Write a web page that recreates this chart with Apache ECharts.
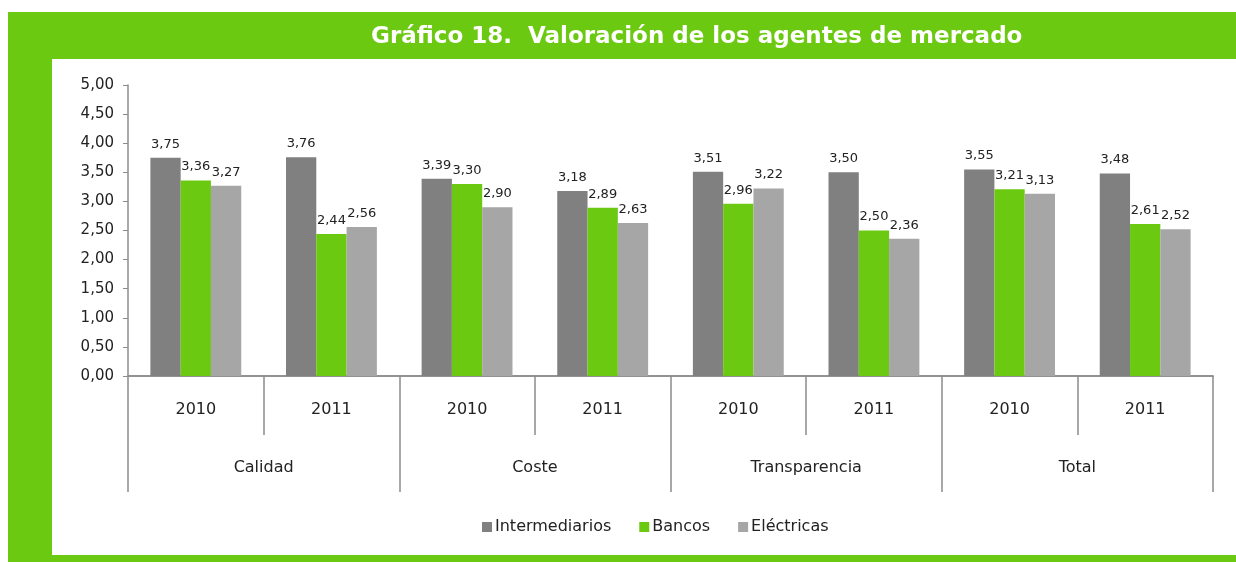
<!DOCTYPE html>
<html>
<head>
<meta charset="utf-8">
<style>
    body { margin: 0; background: #fff; }
    .frame {
        position: absolute; left: 8px; top: 12px; width: 1228px; height: 550px;
        background: #6cc911;
    }
    .inner {
        position: absolute; left: 52px; top: 59px; width: 1184px; height: 496px;
        background: #fff;
    }
    #chart { position: absolute; left: 0; top: 0; width: 1236px; height: 562px; }
</style>
</head>
<body>
<div class="frame"></div>
<div class="inner"></div>
<div id="chart"></div>
<script src="https://cdn.jsdelivr.net/npm/echarts@6/dist/echarts.min.js"></script>
<script>
    var years = ['2010', '2011', '2010', '2011', '2010', '2011', '2010', '2011'];
    var groups = ['Calidad', 'Coste', 'Transparencia', 'Total'];
    var intermediarios = [3.75, 3.76, 3.39, 3.18, 3.51, 3.50, 3.55, 3.48];
    var bancos = [3.36, 2.44, 3.30, 2.89, 2.96, 2.50, 3.21, 2.61];
    var electricas = [3.27, 2.56, 2.90, 2.63, 3.22, 2.36, 3.13, 2.52];

    var fontName = 'DejaVu Sans';
    var axisGrey = '#8c8c8c';

    function comma(v) {
        return v.toFixed(2).replace('.', ',');
    }

    function barSeries(name, data, color) {
        return {
            name: name,
            type: 'bar',
            data: data,
            barGap: '0%',
            barCategoryGap: '33%',
            itemStyle: { color: color },
            label: {
                show: true,
                position: 'top',
                distance: 7,
                color: '#222',
                fontSize: 13,
                fontFamily: fontName,
                formatter: function (p) { return comma(p.value); }
            }
        };
    }

    var myChart = echarts.init(document.getElementById('chart'));
    var option = {
        animation: false,
        title: {
            text: 'Gráfico 18.  Valoración de los agentes de mercado',
            left: 366,
            top: 21,
            textStyle: { color: '#fff', fontSize: 23, fontWeight: 'bold', fontFamily: fontName }
        },
        legend: {
            left: 477,
            top: 514,
            itemWidth: 10,
            itemHeight: 10,
            itemGap: 28,
            icon: 'rect',
            textStyle: { color: '#222', fontSize: 16, fontFamily: fontName, padding: [0, 0, 0, -2] },
            data: ['Intermediarios', 'Bancos', 'Eléctricas']
        },
        grid: { left: 128, right: 23, top: 85, bottom: 186, containLabel: false },
        xAxis: [
            {
                type: 'category',
                data: years,
                axisLine: { show: true, lineStyle: { color: axisGrey, width: 1.5 } },
                axisTick: { show: true, length: 59, lineStyle: { color: axisGrey, width: 1.5 } },
                axisLabel: { margin: 26, color: '#222', fontSize: 16, fontFamily: fontName }
            },
            {
                type: 'category',
                data: groups,
                position: 'bottom',
                axisLine: { show: true, lineStyle: { color: axisGrey, width: 1.5 } },
                axisTick: { show: true, length: 116, lineStyle: { color: axisGrey, width: 1.5 } },
                axisLabel: { margin: 84, color: '#222', fontSize: 16, fontFamily: fontName }
            }
        ],
        yAxis: {
            type: 'value',
            min: 0,
            max: 5,
            interval: 0.5,
            splitLine: { show: false },
            axisLine: { show: true, lineStyle: { color: axisGrey, width: 1.5 } },
            axisTick: { show: true, length: 5, lineStyle: { color: axisGrey } },
            axisLabel: {
                margin: 14,
                color: '#222',
                fontSize: 15,
                fontFamily: fontName,
                formatter: function (v) { return comma(v); }
            }
        },
        series: [
            barSeries('Intermediarios', intermediarios, '#808080'),
            barSeries('Bancos', bancos, '#6cc911'),
            barSeries('Eléctricas', electricas, '#a6a6a6')
        ]
    };
    myChart.setOption(option);
</script>
</body>
</html>
